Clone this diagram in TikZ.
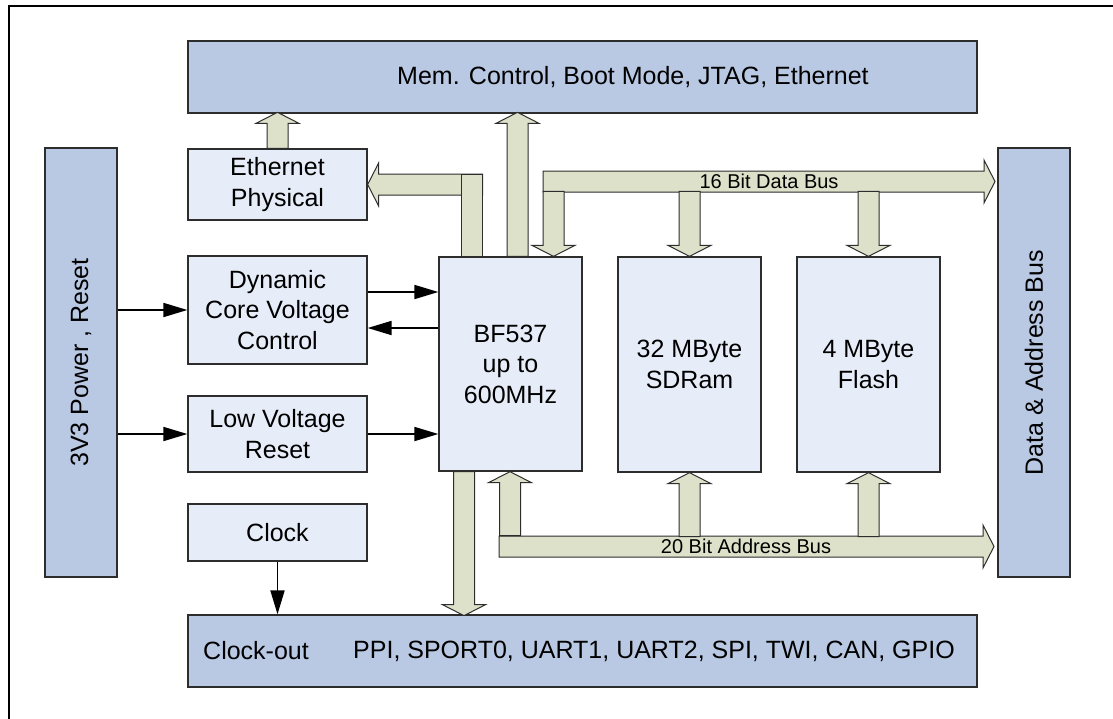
\documentclass[tikz,border=0pt]{standalone}
\usepackage{fontspec}
\setmainfont{Liberation Sans}
\usetikzlibrary{arrows.meta, calc}
\definecolor{boardBlue}{RGB}{185, 201, 227}
\definecolor{chipBlue}{RGB}{230, 237, 248}
\definecolor{busOlive}{RGB}{221, 225, 201}
\definecolor{edgeGray}{RGB}{45, 45, 45}
% #1 angle, #2 start point (with parentheses), #3 length
\newcommand{\BusArrow}[3]{
	\def\llen{#3}
	\begin{scope}[shift={#2}, rotate=#1]
		\filldraw[bus] (0,-10.5) -- (\llen-11,-10.5) -- (\llen-11,-21.5) -- (\llen,0) -- (\llen-11,21.5) -- (\llen-11,10.5) -- (0,10.5) -- cycle;
	\end{scope}
}

\begin{document}
\begin{tikzpicture}[x=1pt, y=-1pt, line join=miter,
		board/.style={draw=edgeGray, fill=boardBlue, line width=1.3pt, inner sep=0pt, font=\fontsize{25}{30}\selectfont},
		chip/.style={draw=edgeGray, fill=chipBlue, line width=1.3pt, inner sep=0pt, align=center, minimum width=179pt, font=\fontsize{25}{30.5}\selectfont},
		core/.style={chip, minimum width=143pt},
		bus/.style={draw=edgeGray, fill=busOlive, line width=1pt},
		sig/.style={line width=1.8pt, -{Triangle[length=24pt, width=14pt]}},
		buslabel/.style={font=\fontsize{20}{24}\selectfont, inner sep=0pt}
	]
	\useasboundingbox (0,0) rectangle (1113,718);
	\begin{scope}
		\clip (0,0) rectangle (1113,718);
		\draw[line width=2pt] (8.5,740) -- (8.5,5.5) -- (1140,5.5);
	\end{scope}

	% outer blocks
	\node[board, minimum width=789pt, minimum height=72pt] (memctl) at (582.5,77) {};
	\node[board, minimum width=789pt, minimum height=72pt] (periph) at (582.5,651) {};
	\node[board, rotate=90, minimum width=429pt, minimum height=72pt] (power) at (81,362.5) {3V3 Power , Reset};
	\node[board, rotate=90, minimum width=429pt, minimum height=72pt] (dabus) at (1034,362.5) {Data \& Address Bus};
	\node[buslabel, font=\fontsize{25}{30}\selectfont, anchor=west] (memtext) at (397,77) {Mem. Control, Boot Mode, JTAG, Ethernet};
	\node[buslabel, font=\fontsize{25}{30}\selectfont, anchor=west] (clkout) at (203,651) {Clock-out};
	\node[buslabel, font=\fontsize{25}{30}\selectfont, anchor=west] (ports) at (353,651) {PPI, SPORT0, UART1, UART2, SPI, TWI, CAN, GPIO};

	% left column
	\node[chip, minimum height=71pt] (ethphy) at (277.5,184.5) {Ethernet\\Physical};
	\node[chip, minimum height=108pt] (dcvc) at (277.5,310) {Dynamic\\Core Voltage\\Control};
	\node[chip, minimum height=76pt] (lvr) at (277.5,434) {Low Voltage\\Reset};
	\node[chip, minimum height=57pt] (clock) at (277.5,532.5) {Clock};

	% processor and memories
	\node[core, minimum height=214pt] (bf) at (510.5,364) {BF537\\up to\\600MHz};
	\node[core, minimum height=215pt] (sdram) at (689.5,364.5) {32 MByte\\SDRam};
	\node[core, minimum height=215pt] (flash) at (868.5,364.5) {4 MByte\\Flash};

	% wide arrows
	\BusArrow{90}{(ethphy.north)}{36}
	\BusArrow{90}{($(bf.north)+(7,0)$)}{144}
	\BusArrow{-90}{($(bf.south)+(-46.5,0)$)}{144}
	\BusArrow{180}{($(ethphy.east)+(115,0)$)}{115}
	\filldraw[bus] ($(bf.north)+(-49.5,0)$) rectangle ($(ethphy.east)+(115,-10.5)$);

	\coordinate (dstart) at (543,181.5);
	\BusArrow{0}{(dstart)}{452}
	\node[buslabel] (dlabel) at (769,181.5) {16 Bit Data Bus};
	\BusArrow{-90}{($(bf.north)+(43,-65)$)}{65}
	\BusArrow{-90}{($(sdram.north)+(0,-65)$)}{65}
	\BusArrow{-90}{($(flash.north)+(0,-65)$)}{65}

	\coordinate (astart) at (499,546.5);
	\BusArrow{0}{(astart)}{495}
	\node[buslabel] (alabel) at (746,546.5) {20 Bit Address Bus};
	\BusArrow{90}{($(bf.south)+(-0.5,64)$)}{64}
	\BusArrow{90}{($(sdram.south)+(0,64)$)}{64}
	\BusArrow{90}{($(flash.south)+(0,64)$)}{64}

	% control lines
	\draw[sig] (power.south |- dcvc.west) -- (dcvc.west);
	\draw[sig] (power.south |- lvr.west) -- (lvr.west);
	\draw[sig] ($(dcvc.east)+(0,-18)$) -- ($(bf.west |- dcvc.east)+(0,-18)$);
	\draw[sig] ($(bf.west |- dcvc.east)+(0,18)$) -- ($(dcvc.east)+(0,18)$);
	\draw[sig] (lvr.east) -- (bf.west |- lvr.east);
	\draw[sig] (clock.south) -- (clock.south |- periph.north);

\end{tikzpicture}
\end{document}
